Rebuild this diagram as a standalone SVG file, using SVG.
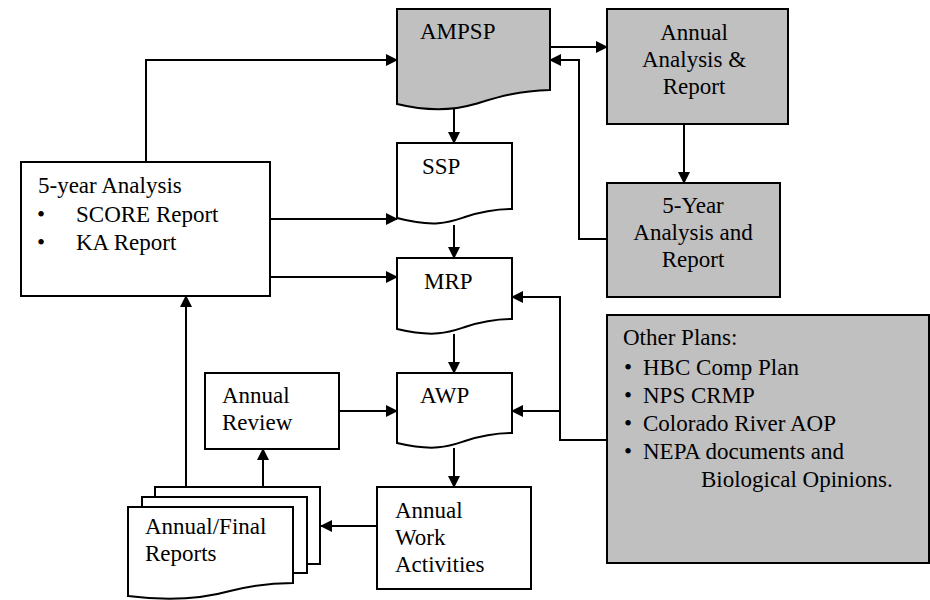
<svg xmlns="http://www.w3.org/2000/svg" width="930" height="600" viewBox="0 0 930 600">
<defs>
<marker id="ah" markerUnits="userSpaceOnUse" markerWidth="12" markerHeight="12" refX="11" refY="6" orient="auto">
<path d="M0,0 L12,6 L0,12 z" fill="#000"/>
</marker>
<style>
.box{fill:#fff;stroke:#000;stroke-width:2}
.gray{fill:#c0c0c0;stroke:#000;stroke-width:2}
.t{font-family:"Liberation Serif","Times New Roman",serif;font-size:23px;fill:#000}
.c{text-anchor:middle}
.ar{fill:none;stroke:#000;stroke-width:2;marker-end:url(#ah)}
</style>
</defs>
<rect width="930" height="600" fill="#fff"/>

<g id="connectors">
<path class="ar" d="M146,162 V60 H397"/>
<path class="ar" d="M550,47 H607"/>
<path class="ar" d="M607,239 H579 V60 H550"/>
<path class="ar" d="M684,124 V183"/>
<path class="ar" d="M454,109 V143"/>
<path class="ar" d="M454,225 V258"/>
<path class="ar" d="M262,219 H397"/>
<path class="ar" d="M262,277 H397"/>
<path class="ar" d="M607,440 H560 V297 H512"/>
<path class="ar" d="M560,411 H512"/>
<path class="ar" d="M454,334 V373"/>
<path class="ar" d="M339,411 H397"/>
<path class="ar" d="M454,448 V487"/>
<path class="ar" d="M377,526 H321"/>
<path class="ar" d="M263,487 V449"/>
<path class="ar" d="M186,487 V296"/>
</g>

<g id="ampsp">
<path class="gray" d="M397,9 H550 V90 C515,91 495,98 475,104 C455,110 430,112 397,104 Z"/>
<text class="t" x="420" y="39">AMPSP</text>
</g>

<g id="annual-analysis">
<rect class="gray" x="607" y="9" width="181" height="115"/>
<text class="t c" x="694" y="40">Annual</text>
<text class="t c" x="694" y="67">Analysis &amp;</text>
<text class="t c" x="694" y="94">Report</text>
</g>

<g id="five-year-report">
<rect class="gray" x="607" y="183" width="173" height="114"/>
<text class="t c" x="693" y="213">5-Year</text>
<text class="t c" x="693" y="240">Analysis and</text>
<text class="t c" x="693" y="267">Report</text>
</g>

<g id="five-year-analysis">
<rect class="box" x="21" y="162" width="249" height="134"/>
<text class="t" x="38" y="193">5-year Analysis</text>
<text class="t" x="37" y="222">•</text>
<text class="t" x="76" y="222">SCORE Report</text>
<text class="t" x="37" y="250">•</text>
<text class="t" x="76" y="250">KA Report</text>
</g>

<g id="ssp">
<path class="box" d="M397,143 H512 V209 C495,209 480,212 465,217 C450,222 435,228 397,218 Z"/>
<text class="t" x="422" y="174">SSP</text>
</g>

<g id="mrp">
<path class="box" d="M397,258 H512 V319 C495,319 480,322 465,327 C450,332 435,338 397,329 Z"/>
<text class="t" x="424" y="289">MRP</text>
</g>

<g id="awp">
<path class="box" d="M397,373 H512 V433 C495,433 480,436 465,441 C450,446 435,452 397,443 Z"/>
<text class="t" x="420" y="403">AWP</text>
</g>

<g id="other-plans">
<rect class="gray" x="607" y="315" width="322" height="248"/>
<text class="t" x="623" y="345">Other Plans:</text>
<text class="t" x="624" y="375">•</text>
<text class="t" x="643" y="375">HBC Comp Plan</text>
<text class="t" x="624" y="403">•</text>
<text class="t" x="643" y="403">NPS CRMP</text>
<text class="t" x="624" y="431">•</text>
<text class="t" x="643" y="431">Colorado River AOP</text>
<text class="t" x="624" y="459">•</text>
<text class="t" x="643" y="459">NEPA documents and</text>
<text class="t" x="701" y="487">Biological Opinions.</text>
</g>

<g id="annual-review">
<rect class="box" x="205" y="373" width="134" height="76"/>
<text class="t" x="222" y="403">Annual</text>
<text class="t" x="222" y="430">Review</text>
</g>

<g id="annual-work">
<rect class="box" x="377" y="487" width="154" height="102"/>
<text class="t" x="395" y="518">Annual</text>
<text class="t" x="395" y="545">Work</text>
<text class="t" x="395" y="572">Activities</text>
</g>

<g id="reports">
<path class="box" d="M155,487 H320 V564 H155 Z"/>
<path class="box" d="M142,497 H307 V573 H142 Z"/>
<path class="box" d="M128,507 H293 V583 C270,583 250,586 230,591 C205,598 175,602 128,596 Z"/>
<text class="t" x="145" y="534">Annual/Final</text>
<text class="t" x="145" y="561">Reports</text>
</g>
</svg>
